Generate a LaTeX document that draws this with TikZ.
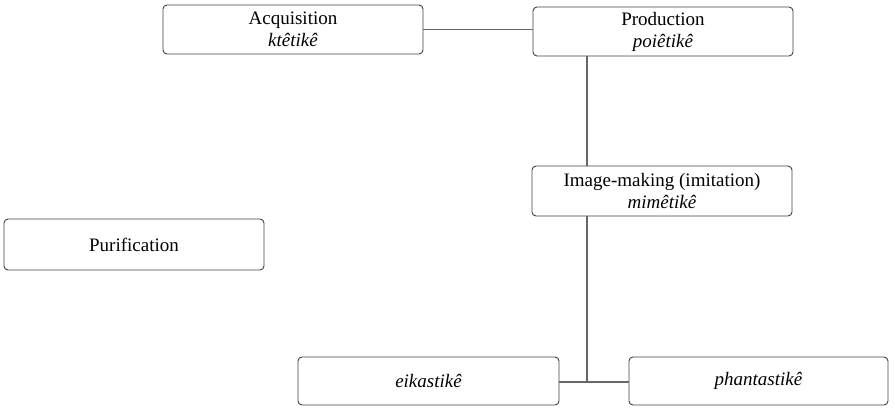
\documentclass[tikz,border=0pt]{standalone}
\usepackage{fontspec}
\setmainfont{Liberation Serif}
\usetikzlibrary{calc}

\begin{document}
\begin{tikzpicture}[x = 1pt, y = -1pt]
\tikzstyle{BoxStyle}=[shape = rectangle, rounded corners = 4pt, draw = black!75,
line width = 0.9pt, minimum width = 260pt, minimum height = 49pt, inner sep = 0pt,
align = center, font = \fontsize{19}{22}\selectfont]
\tikzstyle{LinkStyle}=[draw = black!60, line width = 1.1pt]
\useasboundingbox (0,0) rectangle (895,409);
\node[BoxStyle] (acq) at (293, 29.5) {Acquisition\\\textit{ktêtikê}};
\node[BoxStyle] (prod) at (663, 31.5) {Production\\\textit{poiêtikê}};
\node[BoxStyle, minimum height = 50pt] (img) at (662, 191) {Image-making (imitation)\\\textit{mimêtikê}};
\node[BoxStyle, minimum height = 51pt] (pur) at (134, 244.5) {Purification};
\node[BoxStyle, minimum width = 261pt, minimum height = 48pt] (eik) at (428.5, 381) {\textit{eikastikê}};
\node[BoxStyle, minimum width = 259pt, minimum height = 48pt] (phan) at (758.5, 381) {\textit{phantastikê}};
\coordinate (j) at (587, 382);
\draw[LinkStyle] (acq.east) -- (prod.west |- acq.east);
\draw[LinkStyle] (prod.south -| j) -- (img.north -| j);
\draw[LinkStyle] (img.south -| j) -- (j);
\draw[LinkStyle] (eik.east |- j) -- (phan.west |- j);
\end{tikzpicture}
\end{document}
